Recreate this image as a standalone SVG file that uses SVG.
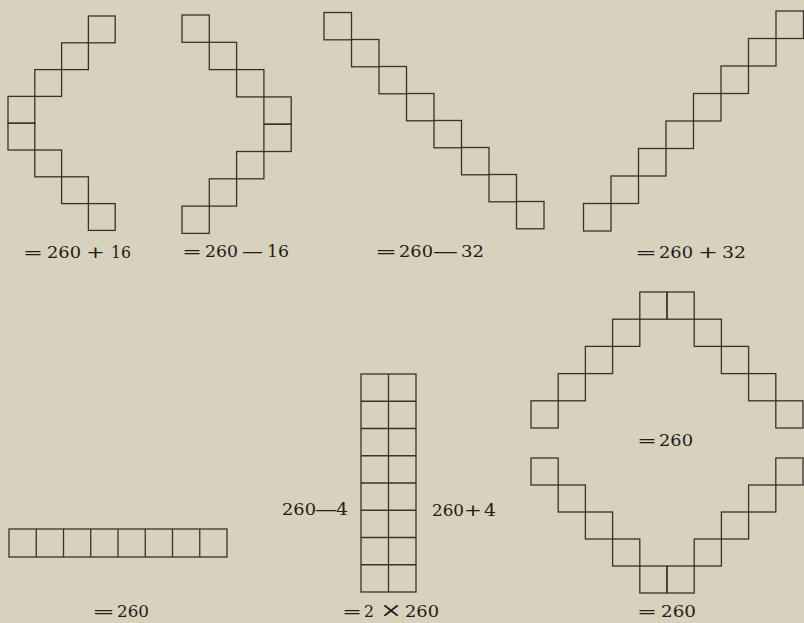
<svg xmlns="http://www.w3.org/2000/svg" width="804" height="623" viewBox="0 0 804 623">
<style>
.bg{fill:#d8d1bd}
.c{fill:none;stroke:#3b322b;stroke-width:1.3}
.lbl{font-family:"DejaVu Serif","Liberation Serif",serif;font-size:16px;fill:#231c17}
.s{font-size:17px}
.x{font-size:21px}
</style>
<rect class="bg" x="0" y="0" width="804" height="623"/>

<g id="fig-260-plus-16" class="c">
<rect x="88.4" y="16" width="26.8" height="26.8"/>
<rect x="61.6" y="42.8" width="26.8" height="26.8"/>
<rect x="34.8" y="69.6" width="26.8" height="26.8"/>
<rect x="8" y="96.4" width="26.8" height="26.8"/>
<rect x="8" y="123.2" width="26.8" height="26.8"/>
<rect x="34.8" y="150" width="26.8" height="26.8"/>
<rect x="61.6" y="176.8" width="26.8" height="26.8"/>
<rect x="88.4" y="203.6" width="26.8" height="26.8"/>
</g>

<g id="fig-260-minus-16" class="c">
<rect x="182" y="15" width="27.3" height="27.3"/>
<rect x="209.3" y="42.3" width="27.3" height="27.3"/>
<rect x="236.6" y="69.6" width="27.3" height="27.3"/>
<rect x="263.9" y="96.9" width="27.3" height="27.3"/>
<rect x="263.9" y="124.2" width="27.3" height="27.3"/>
<rect x="236.6" y="151.5" width="27.3" height="27.3"/>
<rect x="209.3" y="178.8" width="27.3" height="27.3"/>
<rect x="182" y="206.1" width="27.3" height="27.3"/>
</g>

<g id="fig-260-minus-32" class="c">
<rect x="324" y="12.5" width="27.5" height="27.3"/>
<rect x="351.5" y="39.5" width="27.5" height="27.3"/>
<rect x="379" y="66.5" width="27.5" height="27.3"/>
<rect x="406.5" y="93.5" width="27.5" height="27.3"/>
<rect x="434" y="120.5" width="27.5" height="27.3"/>
<rect x="461.5" y="147.5" width="27.5" height="27.3"/>
<rect x="489" y="174.5" width="27.5" height="27.3"/>
<rect x="516.5" y="201.5" width="27.5" height="27.3"/>
</g>

<g id="fig-260-plus-32" class="c">
<rect x="583.5" y="203.5" width="27.5" height="27.5"/>
<rect x="611" y="176" width="27.5" height="27.5"/>
<rect x="638.5" y="148.5" width="27.5" height="27.5"/>
<rect x="666" y="121" width="27.5" height="27.5"/>
<rect x="693.5" y="93.5" width="27.5" height="27.5"/>
<rect x="721" y="66" width="27.5" height="27.5"/>
<rect x="748.5" y="38.5" width="27.5" height="27.5"/>
<rect x="776" y="11" width="27.5" height="27.5"/>
</g>

<g id="fig-row" class="c">
<rect x="9" y="529" width="218" height="28"/>
<path d="M36.25 529V557M63.5 529V557M90.75 529V557M118 529V557M145.25 529V557M172.5 529V557M199.75 529V557"/>
</g>

<g id="fig-column" class="c">
<rect x="361" y="374" width="55" height="218"/>
<path d="M388.5 374V592M361 401.25H416M361 428.5H416M361 455.75H416M361 483H416M361 510.25H416M361 537.5H416M361 564.75H416"/>
</g>

<g id="fig-arch-top" class="c">
<rect x="639.8" y="292" width="27.2" height="27.2"/>
<rect x="667" y="292" width="27.2" height="27.2"/>
<rect x="612.6" y="319.2" width="27.2" height="27.2"/>
<rect x="694.2" y="319.2" width="27.2" height="27.2"/>
<rect x="585.4" y="346.4" width="27.2" height="27.2"/>
<rect x="721.4" y="346.4" width="27.2" height="27.2"/>
<rect x="558.2" y="373.6" width="27.2" height="27.2"/>
<rect x="748.6" y="373.6" width="27.2" height="27.2"/>
<rect x="531" y="400.8" width="27.2" height="27.2"/>
<rect x="775.8" y="400.8" width="27.2" height="27.2"/>
</g>

<g id="fig-arch-bottom" class="c">
<rect x="531" y="458" width="27.2" height="27"/>
<rect x="775.8" y="458" width="27.2" height="27"/>
<rect x="558.2" y="485" width="27.2" height="27"/>
<rect x="748.6" y="485" width="27.2" height="27"/>
<rect x="585.4" y="512" width="27.2" height="27"/>
<rect x="721.4" y="512" width="27.2" height="27"/>
<rect x="612.6" y="539" width="27.2" height="27"/>
<rect x="694.2" y="539" width="27.2" height="27"/>
<rect x="639.8" y="566" width="27.2" height="27"/>
<rect x="667" y="566" width="27.2" height="27"/>
</g>

<g id="labels" class="lbl">
<text y="258"><tspan x="23" textLength="20" lengthAdjust="spacingAndGlyphs" class="s">=</tspan><tspan x="47" textLength="34" lengthAdjust="spacingAndGlyphs">260</tspan><tspan x="86" textLength="19" lengthAdjust="spacingAndGlyphs" class="s">+</tspan><tspan x="111" textLength="20" lengthAdjust="spacingAndGlyphs">16</tspan></text>
<text y="257"><tspan x="182" textLength="20" lengthAdjust="spacingAndGlyphs" class="s">=</tspan><tspan x="205" textLength="33" lengthAdjust="spacingAndGlyphs">260</tspan><tspan x="242" textLength="21" lengthAdjust="spacingAndGlyphs">—</tspan><tspan x="267" textLength="22" lengthAdjust="spacingAndGlyphs">16</tspan></text>
<text y="257"><tspan x="375" textLength="22" lengthAdjust="spacingAndGlyphs" class="s">=</tspan><tspan x="399" textLength="34" lengthAdjust="spacingAndGlyphs">260</tspan><tspan x="433" textLength="25" lengthAdjust="spacingAndGlyphs">—</tspan><tspan x="461" textLength="23" lengthAdjust="spacingAndGlyphs">32</tspan></text>
<text y="258"><tspan x="635" textLength="22" lengthAdjust="spacingAndGlyphs" class="s">=</tspan><tspan x="659" textLength="34" lengthAdjust="spacingAndGlyphs">260</tspan><tspan x="698" textLength="20" lengthAdjust="spacingAndGlyphs" class="s">+</tspan><tspan x="722" textLength="24" lengthAdjust="spacingAndGlyphs">32</tspan></text>
<text y="617"><tspan x="92" textLength="23" lengthAdjust="spacingAndGlyphs" class="s">=</tspan><tspan x="117" textLength="32" lengthAdjust="spacingAndGlyphs">260</tspan></text>
<text y="515"><tspan x="282" textLength="34" lengthAdjust="spacingAndGlyphs">260</tspan><tspan x="315" textLength="22" lengthAdjust="spacingAndGlyphs">—</tspan><tspan x="336" textLength="12" lengthAdjust="spacingAndGlyphs">4</tspan></text>
<text y="516"><tspan x="432" textLength="32" lengthAdjust="spacingAndGlyphs">260</tspan><tspan x="464" textLength="18" lengthAdjust="spacingAndGlyphs" class="s">+</tspan><tspan x="484" textLength="12" lengthAdjust="spacingAndGlyphs">4</tspan></text>
<text y="617"><tspan x="342" textLength="20" lengthAdjust="spacingAndGlyphs" class="s">=</tspan><tspan x="364" textLength="10" lengthAdjust="spacingAndGlyphs">2</tspan><tspan x="380" textLength="22" lengthAdjust="spacingAndGlyphs" class="x">×</tspan><tspan x="405" textLength="34" lengthAdjust="spacingAndGlyphs">260</tspan></text>
<text y="446"><tspan x="637" textLength="20" lengthAdjust="spacingAndGlyphs" class="s">=</tspan><tspan x="659" textLength="34" lengthAdjust="spacingAndGlyphs">260</tspan></text>
<text y="617"><tspan x="637" textLength="20" lengthAdjust="spacingAndGlyphs" class="s">=</tspan><tspan x="661" textLength="35" lengthAdjust="spacingAndGlyphs">260</tspan></text>
</g>
</svg>
